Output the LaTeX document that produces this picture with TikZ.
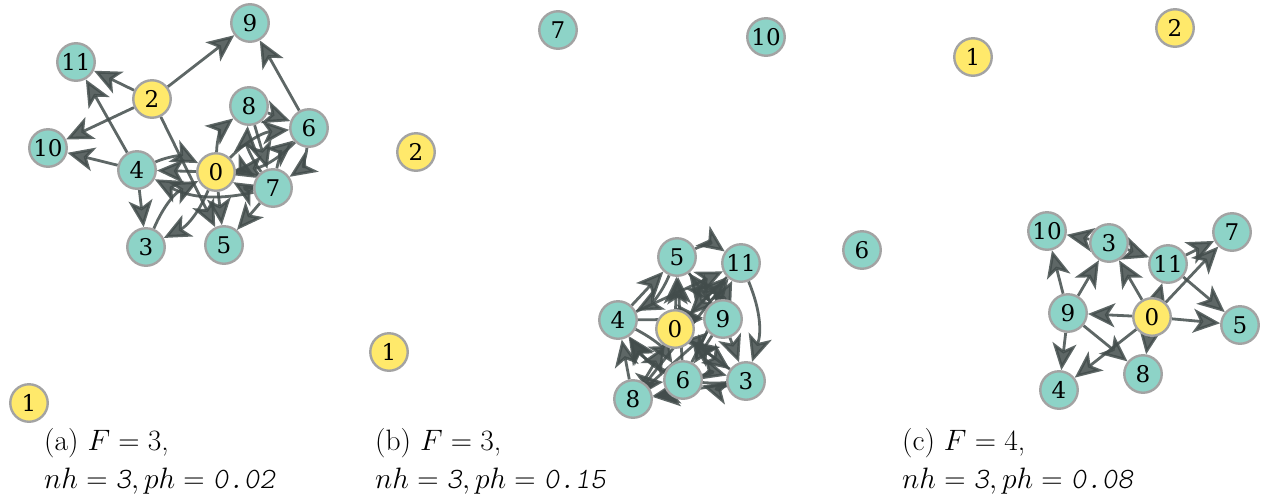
\RequirePackage{fix-cm}
\documentclass[tikz,border=0pt]{standalone}
\usepackage{fontspec}
\usepackage{amsmath}
\usetikzlibrary{arrows.meta}
\newfontfamily\numfont{DejaVu Serif}
\newfontfamily\lightmono{lmmonolt10-oblique.otf}
\newcommand{\ttnum}[1]{\text{\lightmono #1}}
\definecolor{vtxfill}{HTML}{8DD3C7}
\definecolor{hubfill}{HTML}{FFE96B}
\definecolor{ringgray}{HTML}{A3A3A3}
\definecolor{edgegray}{HTML}{424C4B}
\pgfdeclarelayer{bg}
\pgfsetlayers{bg,main}

\begin{document}
\begin{tikzpicture}[x=1pt, y=-1pt, >={Stealth[length=27pt,width=24pt,inset=7pt]}]
    % styles
    \tikzstyle{vtx} = [draw=ringgray, fill=vtxfill, circle, line width=2.4pt, minimum size=37.5pt, inner sep=0pt, font=\fontsize{23}{23}\numfont]
    \tikzstyle{hub} = [vtx, fill=hubfill]
    \tikzstyle{edge} = [->, draw=edgegray, line width=2.8pt, opacity=0.85]
    \tikzstyle{captxt} = [anchor=north west, align=left, inner sep=0pt, font=\fontsize{29.5}{38}\selectfont]

    \useasboundingbox (0,0) rectangle (1265,496);

    % nodes (a)
    \node [hub] (a0) at (216,172) {0};
    \node [hub] (a1) at (29,403) {1};
    \node [hub] (a2) at (152,99) {2};
    \node [vtx] (a3) at (146,247) {3};
    \node [vtx] (a4) at (137,170) {4};
    \node [vtx] (a5) at (224,245) {5};
    \node [vtx] (a6) at (309,128) {6};
    \node [vtx] (a7) at (273,188) {7};
    \node [vtx] (a8) at (249,106) {8};
    \node [vtx] (a9) at (250,23) {9};
    \node [vtx] (a10) at (48,148) {10};
    \node [vtx] (a11) at (76,62) {11};

    % nodes (b)
    \node [hub] (b0) at (675,329) {0};
    \node [hub] (b1) at (389,352) {1};
    \node [hub] (b2) at (416,152) {2};
    \node [vtx] (b3) at (746,381) {3};
    \node [vtx] (b4) at (618,320) {4};
    \node [vtx] (b5) at (677,257) {5};
    \node [vtx] (b6) at (683,380) {6};
    \node [vtx] (b7) at (558,30) {7};
    \node [vtx] (b8) at (633,399) {8};
    \node [vtx] (b9) at (723,319) {9};
    \node [vtx] (b10) at (766,37) {10};
    \node [vtx] (b11) at (741,263) {11};

    % nodes (c)
    \node [hub] (c0) at (1152,317) {0};
    \node [hub] (c1) at (973,57) {1};
    \node [hub] (c2) at (1175,28) {2};
    \node [vtx] (c3) at (1109,243) {3};
    \node [vtx] (c4) at (1059,390) {4};
    \node [vtx] (c5) at (1240,325) {5};
    \node [vtx] (c6) at (862,250) {6};
    \node [vtx] (c7) at (1232,232) {7};
    \node [vtx] (c8) at (1143,374) {8};
    \node [vtx] (c9) at (1068,313) {9};
    \node [vtx] (c10) at (1047,231) {10};
    \node [vtx] (c11) at (1168,264) {11};

    \begin{pgfonlayer}{bg}
    % edges (a)
    \draw [edge] (a2) -- (a9);
    \draw [edge] (a2) -- (a11);
    \draw [edge] (a2) -- (a10);
    \draw [edge] (a2) -- (a5);
    \draw [edge] (a4) -- (a11);
    \draw [edge] (a4) -- (a10);
    \draw [edge] (a4) -- (a3);
    \draw [edge, bend left=25] (a4) to (a0);
    \draw [edge] (a0) -- (a4);
    \draw [edge, bend left=20] (a7) to (a4);
    \draw [edge, bend left=20] (a0) to (a3);
    \draw [edge, bend left=20] (a3) to (a0);
    \draw [edge, bend left=25] (a0) to (a8);
    \draw [edge, bend left=20] (a0) to (a6);
    \draw [edge, bend left=20] (a6) to (a0);
    \draw [edge] (a6) -- (a9);
    \draw [edge, bend left=25] (a6) to (a7);
    \draw [edge] (a8) -- (a7);
    \draw [edge, bend left=20] (a7) to (a8);
    \draw [edge] (a8) -- (a6);
    \draw [edge, bend left=15] (a0) to (a7);
    \draw [edge, bend left=15] (a7) to (a0);
    \draw [edge] (a7) -- (a5);
    \draw [edge] (a0) -- (a5);
    \draw [edge, bend left=20] (a7) to (a6);

    % edges (b)
    \draw [edge, bend left=30] (b5) to (b11);
    \draw [edge] (b4) -- (b5);
    \draw [edge] (b4) -- (b11);
    \draw [edge] (b4) -- (b9);
    \draw [edge] (b0) -- (b5);
    \draw [edge] (b0) -- (b11);
    \draw [edge] (b0) -- (b3);
    \draw [edge] (b9) -- (b3);
    \draw [edge, bend left=20] (b11) to (b3);
    \draw [edge] (b8) -- (b4);
    \draw [edge, bend left=15] (b6) to (b4);
    \draw [edge, bend left=30] (b3) to (b4);
    \draw [edge, bend left=15] (b3) to (b6);
    \draw [edge, bend left=15] (b6) to (b3);
    \draw [edge] (b3) -- (b8);
    \draw [edge] (b8) -- (b11);
    \draw [edge] (b6) -- (b5);
    \draw [edge] (b9) -- (b5);
    \draw [edge] (b6) -- (b11);
    \draw [edge] (b8) -- (b0);
    \draw [edge] (b9) -- (b6);
    \draw [edge] (b3) -- (b0);
    \draw [edge, bend left=15] (b4) to (b6);
    \draw [edge, bend left=15] (b0) to (b9);
    \draw [edge] (b5) -- (b9);
    \draw [edge, bend left=15] (b8) to (b6);
    \draw [edge, bend left=15] (b6) to (b8);
    \draw [edge] (b8) -- (b9);
    \draw [edge] (b11) -- (b0);
    \draw [edge, bend left=20] (b5) to (b4);

    % edges (c)
    \draw [edge] (c9) -- (c10);
    \draw [edge] (c9) -- (c3);
    \draw [edge] (c9) -- (c4);
    \draw [edge] (c9) -- (c8);
    \draw [edge] (c0) -- (c9);
    \draw [edge] (c0) -- (c3);
    \draw [edge] (c0) -- (c11);
    \draw [edge] (c0) -- (c7);
    \draw [edge] (c0) -- (c5);
    \draw [edge] (c0) -- (c4);
    \draw [edge] (c0) -- (c8);
    \draw [edge] (c3) -- (c10);
    \draw [edge] (c3) -- (c11);
    \draw [edge] (c11) -- (c7);
    \draw [edge] (c11) -- (c5);
    \end{pgfonlayer}

    % captions
    \node [captxt] (capa) at (44,428) {(a) $F=3$,\\$nh=\ttnum{3}, ph=\ttnum{0.02}$};
    \node [captxt] (capb) at (375,428) {(b) $F=3$,\\$nh=\ttnum{3}, ph=\ttnum{0.15}$};
    \node [captxt] (capc) at (902,428) {(c) $F=4$,\\$nh=\ttnum{3}, ph=\ttnum{0.08}$};
\end{tikzpicture}
\end{document}
